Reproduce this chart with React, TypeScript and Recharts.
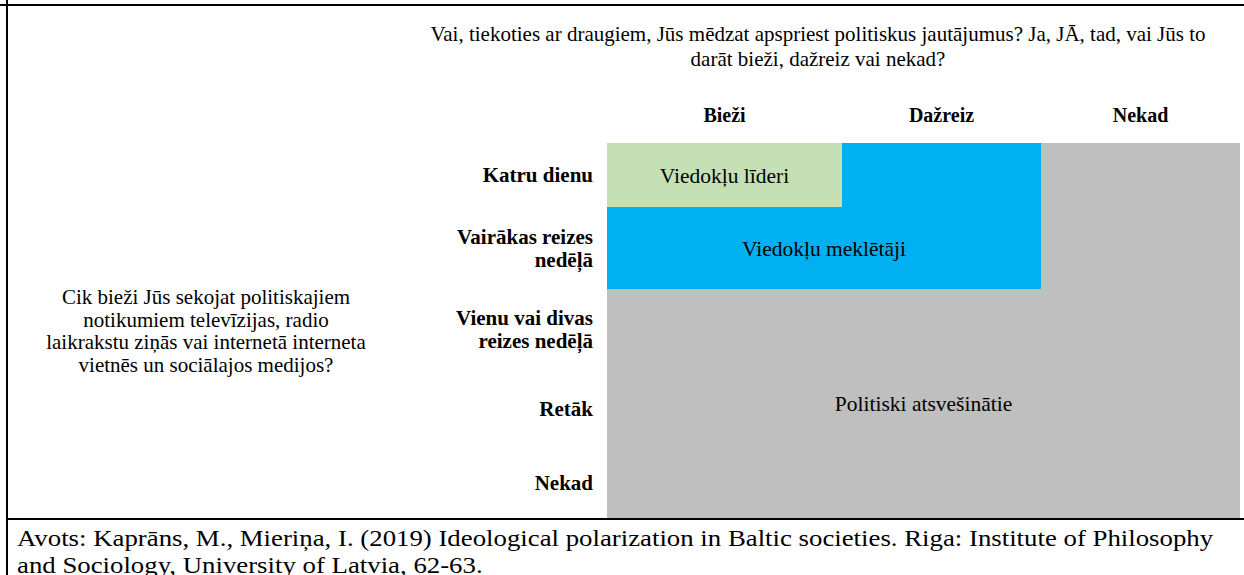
import { ComposedChart, XAxis, YAxis, ReferenceArea, Scatter } from "recharts";

// question answers on the two axes
const columns = ["Bieži", "Dažreiz", "Nekad"];
const rows = [
  "Katru dienu",
  "Vairākas reizes\nnedēļā",
  "Vienu vai divas\nreizes nedēļā",
  "Retāk",
  "Nekad",
];

// the three groups and the cells that belong to them (row by row)
const groups = ["Viedokļu līderi", "Viedokļu meklētāji", "Politiski atsvešinātie"];
const groupColors = ["#C5E0B4", "#00B0F0", "#BFBFBF"];
const cellGroup = [
  [0, 1, 2],
  [1, 1, 2],
  [2, 2, 2],
  [2, 2, 2],
  [2, 2, 2],
];
// where each group name is written: [firstRow, lastRow, firstCol, lastCol]
const labelSpan = [
  [0, 0, 0, 0],
  [1, 1, 0, 1],
  [2, 4, 0, 2],
];

const topQuestion = [
  "Vai, tiekoties ar draugiem, Jūs mēdzat apspriest politiskus jautājumus? Ja, JĀ, tad, vai Jūs to",
  "darāt bieži, dažreiz vai nekad?",
];
const sideQuestion = [
  "Cik bieži Jūs sekojat politiskajiem",
  "notikumiem televīzijas, radio",
  "laikrakstu ziņās vai internetā interneta",
  "vietnēs un sociālajos medijos?",
];
const source = [
  "Avots: Kaprāns, M., Mieriņa, I. (2019) Ideological polarization in Baltic societies. Riga: Institute of Philosophy",
  "and Sociology, University of Latvia, 62-63.",
];

// layout (table cell sizes in px, as in the original Word table)
const colWidths = [235, 199, 199];
const rowHeights = [64, 82, 81, 77, 71];
const serif = "'Liberation Serif', 'Times New Roman', serif";

const edges = (sizes: number[]) =>
  sizes.reduce((acc, s) => [...acc, acc[acc.length - 1] + s], [0]);
const colEdges = edges(colWidths);
const rowEdges = edges(rowHeights);
const colCenters = colWidths.map((_, i) => (colEdges[i] + colEdges[i + 1]) / 2);
const rowCenters = rowHeights.map((_, i) => (rowEdges[i] + rowEdges[i + 1]) / 2);

const ColTick = (props: any) => {
  const { x, index } = props;
  return (
    <text
      x={x}
      y={115}
      textAnchor="middle"
      dominantBaseline="central"
      fontFamily={serif}
      fontWeight="bold"
      fontSize={20}
      fill="#000"
    >
      {columns[index]}
    </text>
  );
};

const RowTick = (props: any) => {
  const { y, index } = props;
  const lines = rows[index].split("\n");
  const lh = 23;
  const start = y - ((lines.length - 1) * lh) / 2;
  return (
    <text
      x={593}
      y={start}
      textAnchor="end"
      dominantBaseline="central"
      fontFamily={serif}
      fontWeight="bold"
      fontSize={21}
      fill="#000"
    >
      {lines.map((l, i) => (
        <tspan key={i} x={593} y={start + i * lh}>
          {l}
        </tspan>
      ))}
    </text>
  );
};

const NoShape = () => <g />;

export default function App() {
  const cells: any[] = [];
  cellGroup.forEach((row, r) =>
    row.forEach((g, c) =>
      cells.push({ r, c, g, x: colCenters[c], y: rowCenters[r] })
    )
  );

  return (
    <div
      style={{
        position: "absolute",
        left: 0,
        top: 0,
        width: 1244,
        height: 575,
        background: "#fff",
        overflow: "hidden",
        fontFamily: serif,
        color: "#000",
      }}
    >
      <ComposedChart
        width={1244}
        height={575}
        data={cells}
        margin={{ top: 103, right: 4, bottom: 57, left: 407 }}
        style={{ position: "absolute", left: 0, top: 0 }}
      >
        <XAxis
          type="number"
          dataKey="x"
          orientation="top"
          domain={[0, colEdges[colEdges.length - 1]]}
          ticks={colCenters}
          interval={0}
          height={40}
          axisLine={false}
          tickLine={false}
          tick={<ColTick />}
          allowDataOverflow
        />
        <YAxis
          type="number"
          dataKey="y"
          reversed
          domain={[0, rowEdges[rowEdges.length - 1]]}
          ticks={rowCenters}
          interval={0}
          width={200}
          axisLine={false}
          tickLine={false}
          tick={<RowTick />}
          allowDataOverflow
        />
        {cells.map(({ r, c, g }) => (
          <ReferenceArea
            key={`cell-${r}-${c}`}
            x1={colEdges[c]}
            x2={colEdges[c + 1]}
            y1={rowEdges[r]}
            y2={rowEdges[r + 1]}
            fill={groupColors[g]}
            fillOpacity={1}
            stroke="none"
            ifOverflow="visible"
          />
        ))}
        {labelSpan.map(([r0, r1, c0, c1], g) => (
          <ReferenceArea
            key={`label-${g}`}
            x1={colEdges[c0]}
            x2={colEdges[c1 + 1]}
            y1={rowEdges[r0]}
            y2={rowEdges[r1 + 1]}
            fill="none"
            fillOpacity={0}
            stroke="none"
            ifOverflow="visible"
            label={{
              value: groups[g],
              position: "center",
              fill: "#000",
              fontSize: 21.5,
              fontFamily: serif,
            }}
          />
        ))}
        <Scatter dataKey="y" shape={<NoShape />} isAnimationActive={false} />
      </ComposedChart>

      {/* table borders */}
      <div style={{ position: "absolute", left: 0, top: 4, width: 1244, height: 2, background: "#000" }} />
      <div style={{ position: "absolute", left: 6, top: 0, width: 2, height: 575, background: "#000" }} />
      <div style={{ position: "absolute", left: 6, top: 518, width: 1238, height: 2, background: "#000" }} />

      {/* question above the columns */}
      <div
        style={{
          position: "absolute",
          left: 410,
          top: 22,
          width: 816,
          textAlign: "center",
          fontSize: 21,
          lineHeight: "25px",
          whiteSpace: "nowrap",
        }}
      >
        {topQuestion.map((l, i) => (
          <div key={i}>{l}</div>
        ))}
      </div>

      {/* question for the rows */}
      <div
        style={{
          position: "absolute",
          left: 6,
          top: 286,
          width: 400,
          textAlign: "center",
          fontSize: 21,
          lineHeight: "22.5px",
          whiteSpace: "nowrap",
        }}
      >
        {sideQuestion.map((l, i) => (
          <div key={i}>{l}</div>
        ))}
      </div>

      {/* source */}
      <div
        style={{
          position: "absolute",
          left: 17,
          top: 526,
          fontSize: 23,
          lineHeight: "26.5px",
          whiteSpace: "nowrap",
          transform: "scaleX(1.165)",
          transformOrigin: "left top",
        }}
      >
        {source.map((l, i) => (
          <div key={i}>{l}</div>
        ))}
      </div>
    </div>
  );
}
